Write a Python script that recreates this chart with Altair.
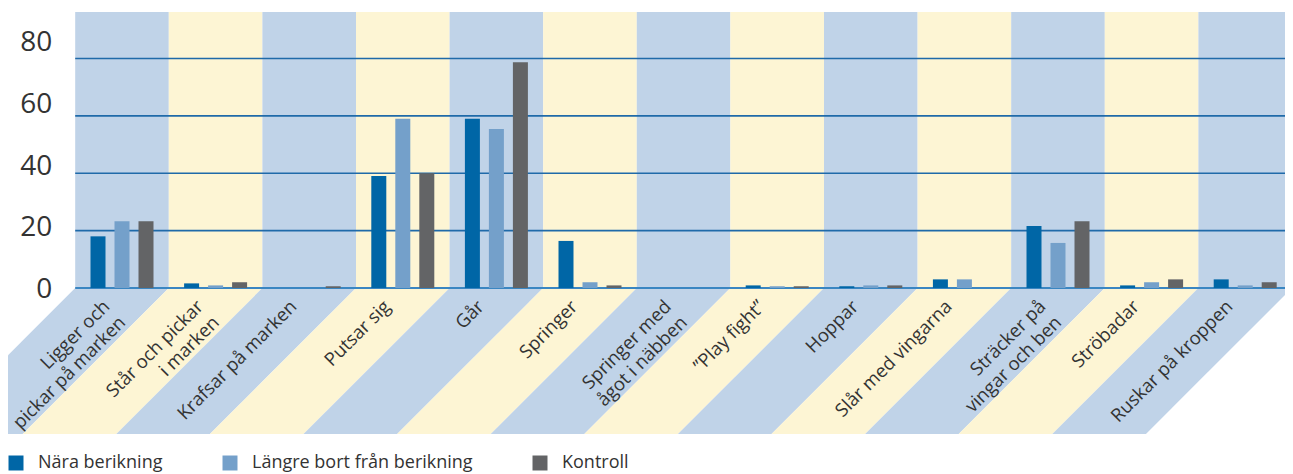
import altair as alt
import pandas as pd

# ---------------- data ----------------
categories = [
    "Ligger och\npickar på marken",
    "Står och pickar\ni marken",
    "Krafsar på marken",
    "Putsar sig",
    "Går",
    "Springer",
    "Springer med\något i näbben",
    "”Play fight”",
    "Hoppar",
    "Slår med vingarna",
    "Sträcker på\nvingar och ben",
    "Ströbadar",
    "Ruskar på kroppen",
]
series = ["Nära berikning", "Längre bort från berikning", "Kontroll"]
nara = [18.0, 1.6, 0.0, 39.0, 59.0, 16.4, 0.0, 0.9, 0.6, 3.0, 21.6, 0.9, 3.0]
langre = [23.3, 0.9, 0.0, 59.0, 55.4, 2.0, 0.0, 0.6, 0.9, 3.0, 15.7, 2.0, 0.9]
kontroll = [23.3, 2.0, 0.6, 40.0, 78.7, 0.9, 0.0, 0.6, 0.9, 0.0, 23.3, 3.0, 2.0]
y_ticks = [0, 20, 40, 60, 80]

# ---------------- style ----------------
BAR_COLORS = ["#0066a6", "#74a0ca", "#636466"]
BLUE_BG = "#c0d3e8"
YELLOW_BG = "#fdf5d4"
GRID = "#1f6aa9"
ZERO = "#3a86c2"
TEXT = "#333333"
FONT = "Open Sans"

W, H = 1277, 422
n = len(categories)
step_px = 93.6                   # width of one category band
left_px = 67.2                   # empty space left of the first band
x_dom = [-left_px / step_px, (W - left_px) / step_px]
px_per_unit = 2.87               # y pixels per value unit
y_top = 96.2
y_bot = -50.9
y_dom = [y_bot, y_top]
label_h_px = -y_bot * px_per_unit          # height of the label strip in px
H_units = label_h_px / step_px             # 45 degree slant in x units
bar_step = 24 / step_px                    # distance between bars of a group
bar_half = 7.5 / step_px                   # half bar width
lab_px = 3.0875                            # spacing of the value labels (px per unit)
lab_shift = 2.1

# ---------------- tables ----------------
bars_df = pd.DataFrame(
    [
        {"cat": c, "idx": i, "series": s, "sidx": k, "value": v}
        for k, (vals, s) in enumerate(zip([nara, langre, kontroll], series))
        for i, (c, v) in enumerate(zip(categories, vals))
    ]
)

bands_df = pd.DataFrame(
    {"idx": list(range(n)), "x0": list(range(n)), "x1": [i + 1 for i in range(n)],
     "label": categories, "xc": [i + 0.5 for i in range(n)],
     "y0": [0.0] * n, "y1": [y_top] * n, "yl": [0.0] * n}
)

# parallelogram strips below the axis (45 degree slant)
para_rows = []
for i in range(n):
    para_rows += [
        {"idx": i, "x": i - H_units, "top": y_bot, "bot": y_bot},
        {"idx": i, "x": i - H_units + 1, "top": y_bot * (H_units - 1) / H_units, "bot": y_bot},
        {"idx": i, "x": i, "top": 0, "bot": y_bot / H_units},
        {"idx": i, "x": i + 1, "top": 0, "bot": 0},
    ]
para_df = pd.DataFrame(para_rows)
ticks_df = pd.DataFrame({"tick": y_ticks, "x0": [0] * len(y_ticks), "x1": [n] * len(y_ticks)})

xq = alt.Scale(domain=x_dom, nice=False, zero=False)
yq = alt.Scale(domain=y_dom, nice=False, zero=False)
band_fill = alt.condition("datum.idx % 2 == 0", alt.value(BLUE_BG), alt.value(YELLOW_BG))

rects = alt.Chart(bands_df).mark_rect(strokeWidth=0, clip=True).encode(
    x=alt.X("x0:Q", scale=xq, axis=None),
    x2="x1:Q",
    y=alt.Y("y0:Q", scale=yq, axis=None),
    y2="y1:Q",
    fill=band_fill,
)

paras = alt.Chart(para_df).mark_area(clip=True, interpolate="linear").encode(
    x=alt.X("x:Q", scale=xq, axis=None),
    y=alt.Y("top:Q", scale=yq, axis=None),
    y2="bot:Q",
    detail="idx:N",
    fill=band_fill,
)

grid = alt.Chart(ticks_df).transform_filter("datum.tick > 0").mark_rule(
    color=GRID, strokeWidth=1.6, clip=True
).encode(
    y=alt.Y("tick:Q", scale=yq, axis=None),
    x=alt.X("x0:Q", scale=xq, axis=None),
    x2="x1:Q",
)

zero_line = alt.Chart(ticks_df).transform_filter("datum.tick == 0").mark_rule(
    color=ZERO, strokeWidth=2, clip=True
).encode(
    y=alt.Y("tick:Q", scale=yq, axis=None),
    x=alt.X("x0:Q", scale=xq, axis=None),
    x2="x1:Q",
)

labels = alt.Chart(bands_df).mark_text(
    angle=315, align="right", baseline="middle", dx=-22,
    font=FONT, fontSize=18.5, color=TEXT, lineBreak="\n", lineHeight=22.5,
).encode(
    x=alt.X("xc:Q", scale=xq, axis=None),
    y=alt.Y("yl:Q", scale=yq, axis=None),
    text="label:N",
)

# value-axis labels, placed as in the original artwork
ylabels = alt.Chart(ticks_df).transform_calculate(
    ypos=f"(datum.tick * {lab_px} - {lab_shift}) / {px_per_unit}"
).mark_text(
    align="right", baseline="middle", dx=-23,
    font=FONT, fontSize=28, color=TEXT,
).encode(
    x=alt.X("x0:Q", scale=xq, axis=None),
    y=alt.Y("ypos:Q", scale=yq, axis=None),
    text="tick:Q",
)

bars = alt.Chart(bars_df).transform_calculate(
    bx0=f"datum.idx + 0.5 + (datum.sidx - 1) * {bar_step} - {bar_half}",
    bx1=f"datum.idx + 0.5 + (datum.sidx - 1) * {bar_step} + {bar_half}",
    base="0",
).mark_bar().encode(
    x=alt.X("bx0:Q", scale=xq, axis=None),
    x2="bx1:Q",
    y=alt.Y("value:Q", scale=yq, axis=None),
    y2="base:Q",
    color=alt.Color(
        "series:N", sort=series,
        scale=alt.Scale(domain=series, range=BAR_COLORS),
        legend=alt.Legend(
            title=None, orient="none", direction="horizontal",
            legendX=-1, legendY=442, padding=0,
            symbolType="square", symbolSize=225, symbolStrokeWidth=0,
            labelFont=FONT, labelFontSize=18, labelColor=TEXT, labelLimit=600,
            labelOffset=13, columnPadding=58,
        ),
    ),
)

chart = alt.layer(rects, paras, grid, zero_line, labels, ylabels, bars).properties(
    width=W, height=H,
    padding={"left": 0, "top": 4, "right": 0, "bottom": 40},
    autosize=alt.AutoSizeParams(type="none"),
).configure_view(stroke=None)

chart.save("out.html", embed_options={"renderer": "svg", "actions": False})
